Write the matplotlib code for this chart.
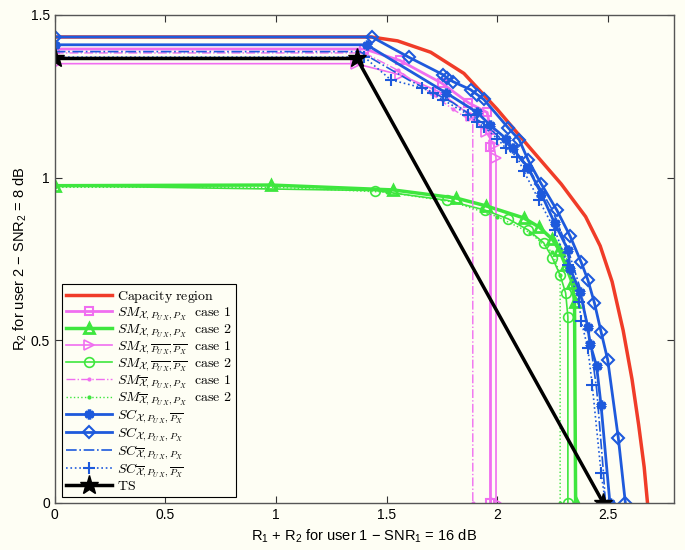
import matplotlib
matplotlib.use("Agg")
import matplotlib.pyplot as plt

plt.rcParams['font.family'] = ['Liberation Sans', 'DejaVu Sans']
plt.rcParams['mathtext.fontset'] = 'custom'
plt.rcParams['mathtext.rm'] = 'Liberation Sans'
plt.rcParams['mathtext.it'] = 'Liberation Sans:italic'

# capacity region
cap_x = [0, 1.43, 1.55, 1.70, 1.85, 2.0, 2.15, 2.29, 2.40, 2.466, 2.52, 2.57, 2.61, 2.64, 2.665, 2.68]
cap_y = [1.432, 1.432, 1.42, 1.385, 1.32, 1.21, 1.09, 0.98, 0.88, 0.79, 0.68, 0.53, 0.38, 0.24, 0.11, 0.0]

# SM, magenta
sm1_x = [0, 1.40, 1.56, 1.75, 1.87, 1.955, 1.97, 1.97, 1.97]
sm1_y = [1.395, 1.395, 1.36, 1.29, 1.23, 1.20, 1.147, 1.094, 0.0]
sm3_x = [0, 1.36, 1.56, 1.74, 1.88, 1.95, 1.985, 1.995, 1.995]
sm3_y = [1.35, 1.35, 1.316, 1.263, 1.19, 1.14, 1.10, 1.06, 0.0]
sm5_x = [0, 1.40, 1.55, 1.70, 1.80, 1.87, 1.89, 1.89]
sm5_y = [1.383, 1.383, 1.33, 1.26, 1.21, 1.18, 1.177, 0.0]

# SM, green
sm2_x = [0, 0.977, 1.53, 1.815, 1.95, 2.12, 2.19, 2.25, 2.28, 2.31, 2.34, 2.35, 2.355]
sm2_y = [0.975, 0.977, 0.962, 0.937, 0.913, 0.876, 0.848, 0.81, 0.778, 0.73, 0.676, 0.618, 0.0]
sm4_x = [0, 1.45, 1.775, 1.945, 2.05, 2.14, 2.21, 2.25, 2.285, 2.31, 2.32, 2.32]
sm4_y = [0.975, 0.96, 0.93, 0.90, 0.873, 0.839, 0.80, 0.753, 0.70, 0.645, 0.572, 0.0]
sm6_x = [0, 1.0, 1.5, 1.8, 2.0, 2.15, 2.25, 2.285, 2.285]
sm6_y = [0.97, 0.97, 0.955, 0.925, 0.88, 0.83, 0.77, 0.70, 0.0]

# SC, blue
sc1_x = [0, 1.41, 1.77, 1.91, 1.97, 2.04, 2.07, 2.14, 2.20, 2.26, 2.32, 2.33, 2.375, 2.41, 2.42, 2.45, 2.47, 2.51]
sc1_y = [1.408, 1.408, 1.26, 1.2, 1.16, 1.12, 1.09, 1.03, 0.95, 0.86, 0.778, 0.72, 0.649, 0.54, 0.49, 0.42, 0.30, 0.0]
sc2_x = [0, 1.434, 1.60, 1.756, 1.775, 1.80, 1.88, 1.91, 1.94, 2.05, 2.10, 2.14, 2.20, 2.27, 2.33, 2.38, 2.41, 2.44, 2.47, 2.50, 2.548, 2.58]
sc2_y = [1.432, 1.432, 1.37, 1.316, 1.305, 1.295, 1.27, 1.255, 1.24, 1.153, 1.116, 1.054, 0.98, 0.90, 0.82, 0.74, 0.686, 0.615, 0.526, 0.44, 0.2, 0.0]
sc3_x = [0, 1.38, 1.6, 1.8, 1.95, 2.05, 2.15, 2.25, 2.32, 2.38, 2.42, 2.45, 2.48, 2.49]
sc3_y = [1.387, 1.387, 1.30, 1.23, 1.16, 1.10, 1.02, 0.90, 0.78, 0.65, 0.50, 0.35, 0.1, 0.0]
sc4_x = [0, 1.40, 1.52, 1.66, 1.71, 1.755, 1.87, 1.91, 1.94, 2.0, 2.04, 2.09, 2.12, 2.19, 2.26, 2.32, 2.37, 2.38, 2.41, 2.43, 2.47, 2.49]
sc4_y = [1.37, 1.37, 1.30, 1.276, 1.26, 1.239, 1.193, 1.17, 1.156, 1.12, 1.09, 1.064, 1.02, 0.93, 0.84, 0.73, 0.618, 0.56, 0.476, 0.363, 0.093, 0.0]

# time sharing
ts_x = [0, 1.366, 2.48]
ts_y = [1.366, 1.366, 0.0]

labels = [
    r'$\mathrm{Capacity\ region}$',
    r'$SM_{\mathcal{X},P_{U\,X},P_X}\ \ \mathrm{case\ 1}$',
    r'$SM_{\mathcal{X},P_{U\,X},P_X}\ \ \mathrm{case\ 2}$',
    r'$SM_{\mathcal{X},\overline{P_{U\,X}},\overline{P_X}}\ \ \mathrm{case\ 1}$',
    r'$SM_{\mathcal{X},\overline{P_{U\,X}},\overline{P_X}}\ \ \mathrm{case\ 2}$',
    r'$SM_{\overline{\mathcal{X}},P_{U\,X},P_X}\ \ \mathrm{case\ 1}$',
    r'$SM_{\overline{\mathcal{X}},P_{U\,X},P_X}\ \ \mathrm{case\ 2}$',
    r'$SC_{\mathcal{X},P_{U\,X},\overline{P_X}}$',
    r'$SC_{\mathcal{X},P_{U\,X},P_X}$',
    r'$SC_{\overline{\mathcal{X}},P_{U\,X},P_X}$',
    r'$SC_{\overline{\mathcal{X}},P_{U\,X},\overline{P_X}}$',
    r'$\mathrm{TS}$',
]

bg = '#fefef4'
red = '#f03c28'
mag = '#f06ef0'
grn = '#3ee63e'
blu = '#1e5adc'

fig = plt.figure(figsize=(6.85, 5.5), dpi=100, facecolor=bg)
ax = fig.add_axes([0.080, 0.0855, 0.904, 0.8875], facecolor=bg)

h = []
h += ax.plot(cap_x, cap_y, color=red, lw=2.5)
h += ax.plot(sm1_x, sm1_y, color=mag, lw=2, marker='s', ms=6, mfc='none', mew=1.5)
h += ax.plot(sm2_x, sm2_y, color=grn, lw=2.5, marker='^', ms=7, mfc='none', mew=2)
h += ax.plot(sm3_x, sm3_y, color=mag, lw=1.2, marker='>', ms=7, mfc='none', mew=1.2)
h += ax.plot(sm4_x, sm4_y, color=grn, lw=1.2, marker='o', ms=7, mfc='none', mew=1.2,
             markevery=list(range(1, len(sm4_x))))
h += ax.plot(sm5_x, sm5_y, color=mag, lw=1, ls='-.', marker='.', ms=4)
h += ax.plot(sm6_x, sm6_y, color=grn, lw=1, ls=':', marker='.', ms=4)
h += ax.plot(sc1_x, sc1_y, color=blu, lw=2, marker=(6, 2, 0), ms=7, mew=2.5)
h += ax.plot(sc2_x, sc2_y, color=blu, lw=2, marker='D', ms=6, mfc='none', mew=1.5)
h += ax.plot(sc3_x, sc3_y, color=blu, lw=1.2, ls='-.')
h += ax.plot(sc4_x, sc4_y, color=blu, lw=1.2, ls=':', marker='+', ms=9, mew=1.5)
h += ax.plot(ts_x, ts_y, color='black', lw=2.5, marker='*', ms=14)

ax.set_xlim(0, 2.8)
ax.set_ylim(0, 1.5)
ax.set_xticks([0, 0.5, 1, 1.5, 2, 2.5])
ax.set_xticklabels(['0', '0.5', '1', '1.5', '2', '2.5'])
ax.set_yticks([0, 0.5, 1, 1.5])
ax.set_yticklabels(['0', '0.5', '1', '1.5'])
ax.tick_params(direction='in', top=True, right=True, length=5, labelsize=10, color='#333333')
for s in ax.spines.values():
    s.set_color('#555555')
    s.set_linewidth(1)

ax.set_xlabel(r'R$_1$ + R$_2$ for user 1 $-$ SNR$_1$ = 16 dB', fontsize=10.5, labelpad=4)
ax.set_ylabel(r'R$_2$ for user 2 $-$ SNR$_2$ = 8 dB', fontsize=10.5, labelpad=1)

leg = ax.legend(h, labels, loc='lower left', bbox_to_anchor=(0.011, 0.012), borderaxespad=0,
                fontsize=10, handlelength=3.3, labelspacing=0.0, fancybox=False,
                edgecolor='black', facecolor=bg, framealpha=1, borderpad=0.3, handletextpad=0.4)
leg.get_frame().set_linewidth(0.8)
for t in leg.get_texts():
    t.set_math_fontfamily('cm')

fig.savefig('out.png', dpi=100, facecolor=bg)
